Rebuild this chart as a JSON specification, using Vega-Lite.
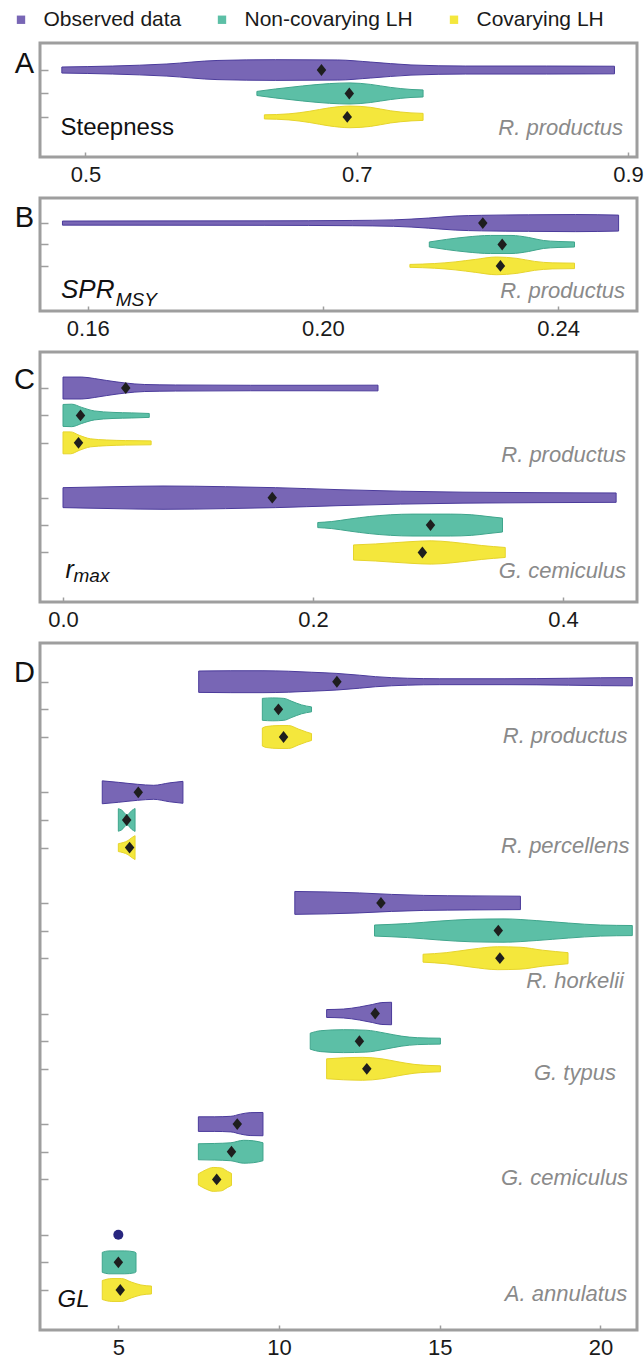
{
"$schema": "https://vega.github.io/schema/vega-lite/v6.json",
"background": "white",
"padding": {"left": 10, "top": 9, "right": 0, "bottom": 0},
"spacing": 41,
"bounds": "flush",
"config": {
  "view": {"stroke": "#9e9e9e", "strokeWidth": 3},
  "axis": {"domain": false, "grid": false, "tickColor": "#9e9e9e", "tickWidth": 1.5, "labelFont": "Liberation Sans", "labelFontSize": 22, "labelColor": "#1a1a1a"},
  "axisX": {"tickSize": -5, "labelPadding": 12, "labelFlush": false, "title": null},
  "axisY": {"tickSize": -8, "labels": false, "titleAngle": 0, "titleX": -16, "titleAlign": "center", "titleBaseline": "alphabetic", "titleFontSize": 29, "titleFontWeight": "normal", "titleFont": "Liberation Sans", "titleColor": "#111111"},
  "legend": {"orient": "none", "legendX": -29.5, "legendY": -34, "direction": "horizontal", "columns": 3, "symbolType": "square", "symbolSize": 70, "labelFontSize": 21, "labelFont": "Liberation Sans", "labelColor": "#1a1a1a", "labelOffset": 12, "columnPadding": 30, "gridAlign": "each", "labelLimit": 300, "padding": 0, "symbolStrokeWidth": 0, "symbolOpacity": 1},
  "text": {"font": "Liberation Sans"}
},
"datasets": {
"vio": [
{"p":"A","v":"A1","s":"Observed data","x":0.4826,"lo":-3.1,"hi":3.1},
{"p":"A","v":"A1","s":"Observed data","x":0.52,"lo":-4.1,"hi":4.1},
{"p":"A","v":"A1","s":"Observed data","x":0.56,"lo":-6.2,"hi":6.2},
{"p":"A","v":"A1","s":"Observed data","x":0.597,"lo":-9.8,"hi":9.8},
{"p":"A","v":"A1","s":"Observed data","x":0.64,"lo":-10.6,"hi":10.6},
{"p":"A","v":"A1","s":"Observed data","x":0.686,"lo":-10.3,"hi":10.3},
{"p":"A","v":"A1","s":"Observed data","x":0.71,"lo":-8.2,"hi":8.2},
{"p":"A","v":"A1","s":"Observed data","x":0.74,"lo":-5.2,"hi":5.2},
{"p":"A","v":"A1","s":"Observed data","x":0.78,"lo":-4.1,"hi":4.1},
{"p":"A","v":"A1","s":"Observed data","x":0.84,"lo":-4.1,"hi":4.1},
{"p":"A","v":"A1","s":"Observed data","x":0.89,"lo":-3.9,"hi":3.9},
{"p":"A","v":"A2","s":"Non-covarying LH","x":0.6264,"lo":21.9,"hi":26.1},
{"p":"A","v":"A2","s":"Non-covarying LH","x":0.64,"lo":19.4,"hi":28.6},
{"p":"A","v":"A2","s":"Non-covarying LH","x":0.66,"lo":16.3,"hi":31.7},
{"p":"A","v":"A2","s":"Non-covarying LH","x":0.68,"lo":13.9,"hi":34.1},
{"p":"A","v":"A2","s":"Non-covarying LH","x":0.695,"lo":13.2,"hi":34.8},
{"p":"A","v":"A2","s":"Non-covarying LH","x":0.71,"lo":14.7,"hi":33.3},
{"p":"A","v":"A2","s":"Non-covarying LH","x":0.725,"lo":17.8,"hi":30.2},
{"p":"A","v":"A2","s":"Non-covarying LH","x":0.74,"lo":19.9,"hi":28.1},
{"p":"A","v":"A2","s":"Non-covarying LH","x":0.7489,"lo":20.4,"hi":27.6},
{"p":"A","v":"A3","s":"Covarying LH","x":0.6319,"lo":45.9,"hi":50.1},
{"p":"A","v":"A3","s":"Covarying LH","x":0.65,"lo":44.9,"hi":51.1},
{"p":"A","v":"A3","s":"Covarying LH","x":0.665,"lo":42.3,"hi":53.7},
{"p":"A","v":"A3","s":"Covarying LH","x":0.68,"lo":38.7,"hi":57.3},
{"p":"A","v":"A3","s":"Covarying LH","x":0.695,"lo":36.9,"hi":59.1},
{"p":"A","v":"A3","s":"Covarying LH","x":0.71,"lo":38.2,"hi":57.8},
{"p":"A","v":"A3","s":"Covarying LH","x":0.725,"lo":41.8,"hi":54.2},
{"p":"A","v":"A3","s":"Covarying LH","x":0.74,"lo":43.9,"hi":52.1},
{"p":"A","v":"A3","s":"Covarying LH","x":0.7489,"lo":44.4,"hi":51.6},
{"p":"B","v":"B1","s":"Observed data","x":0.1557,"lo":-2.1,"hi":2.1},
{"p":"B","v":"B1","s":"Observed data","x":0.19,"lo":-2.3,"hi":2.3},
{"p":"B","v":"B1","s":"Observed data","x":0.205,"lo":-2.7,"hi":2.7},
{"p":"B","v":"B1","s":"Observed data","x":0.212,"lo":-3.3,"hi":3.3},
{"p":"B","v":"B1","s":"Observed data","x":0.218,"lo":-5.2,"hi":5.2},
{"p":"B","v":"B1","s":"Observed data","x":0.2225,"lo":-7.2,"hi":7.2},
{"p":"B","v":"B1","s":"Observed data","x":0.227,"lo":-8,"hi":8},
{"p":"B","v":"B1","s":"Observed data","x":0.235,"lo":-8.5,"hi":8.5},
{"p":"B","v":"B1","s":"Observed data","x":0.243,"lo":-8.8,"hi":8.8},
{"p":"B","v":"B1","s":"Observed data","x":0.2503,"lo":-8.2,"hi":8.2},
{"p":"B","v":"B2","s":"Non-covarying LH","x":0.2181,"lo":19.4,"hi":24.6},
{"p":"B","v":"B2","s":"Non-covarying LH","x":0.221,"lo":16.8,"hi":27.2},
{"p":"B","v":"B2","s":"Non-covarying LH","x":0.2245,"lo":14.3,"hi":29.7},
{"p":"B","v":"B2","s":"Non-covarying LH","x":0.2285,"lo":12.7,"hi":31.3},
{"p":"B","v":"B2","s":"Non-covarying LH","x":0.232,"lo":12.7,"hi":31.3},
{"p":"B","v":"B2","s":"Non-covarying LH","x":0.235,"lo":14.8,"hi":29.2},
{"p":"B","v":"B2","s":"Non-covarying LH","x":0.2375,"lo":17.9,"hi":26.1},
{"p":"B","v":"B2","s":"Non-covarying LH","x":0.24,"lo":18.9,"hi":25.1},
{"p":"B","v":"B2","s":"Non-covarying LH","x":0.2428,"lo":19.4,"hi":24.6},
{"p":"B","v":"B3","s":"Covarying LH","x":0.2148,"lo":42.5,"hi":45.5},
{"p":"B","v":"B3","s":"Covarying LH","x":0.219,"lo":41.6,"hi":46.4},
{"p":"B","v":"B3","s":"Covarying LH","x":0.2225,"lo":39.9,"hi":48.1},
{"p":"B","v":"B3","s":"Covarying LH","x":0.226,"lo":37.3,"hi":50.7},
{"p":"B","v":"B3","s":"Covarying LH","x":0.2295,"lo":34.9,"hi":53.1},
{"p":"B","v":"B3","s":"Covarying LH","x":0.233,"lo":36.3,"hi":51.7},
{"p":"B","v":"B3","s":"Covarying LH","x":0.236,"lo":39.4,"hi":48.6},
{"p":"B","v":"B3","s":"Covarying LH","x":0.239,"lo":40.9,"hi":47.1},
{"p":"B","v":"B3","s":"Covarying LH","x":0.2428,"lo":41.2,"hi":46.8},
{"p":"C","v":"C1","s":"Observed data","x":0,"lo":-11.2,"hi":11.2},
{"p":"C","v":"C1","s":"Observed data","x":0.015,"lo":-11.2,"hi":11.2},
{"p":"C","v":"C1","s":"Observed data","x":0.025,"lo":-9.7,"hi":9.7},
{"p":"C","v":"C1","s":"Observed data","x":0.035,"lo":-7.7,"hi":7.7},
{"p":"C","v":"C1","s":"Observed data","x":0.05,"lo":-5.1,"hi":5.1},
{"p":"C","v":"C1","s":"Observed data","x":0.065,"lo":-3.6,"hi":3.6},
{"p":"C","v":"C1","s":"Observed data","x":0.09,"lo":-3.1,"hi":3.1},
{"p":"C","v":"C1","s":"Observed data","x":0.15,"lo":-2.8,"hi":2.8},
{"p":"C","v":"C1","s":"Observed data","x":0.2,"lo":-2.8,"hi":2.8},
{"p":"C","v":"C1","s":"Observed data","x":0.252,"lo":-2.9,"hi":2.9},
{"p":"C","v":"C2","s":"Non-covarying LH","x":0,"lo":16.8,"hi":39.2},
{"p":"C","v":"C2","s":"Non-covarying LH","x":0.007,"lo":16.5,"hi":39.5},
{"p":"C","v":"C2","s":"Non-covarying LH","x":0.015,"lo":19.8,"hi":36.2},
{"p":"C","v":"C2","s":"Non-covarying LH","x":0.025,"lo":23.4,"hi":32.6},
{"p":"C","v":"C2","s":"Non-covarying LH","x":0.04,"lo":24.9,"hi":31.1},
{"p":"C","v":"C2","s":"Non-covarying LH","x":0.055,"lo":25.4,"hi":30.6},
{"p":"C","v":"C2","s":"Non-covarying LH","x":0.069,"lo":26,"hi":30},
{"p":"C","v":"C3","s":"Covarying LH","x":0,"lo":44.8,"hi":67.2},
{"p":"C","v":"C3","s":"Covarying LH","x":0.006,"lo":44.8,"hi":67.2},
{"p":"C","v":"C3","s":"Covarying LH","x":0.013,"lo":48.3,"hi":63.7},
{"p":"C","v":"C3","s":"Covarying LH","x":0.022,"lo":51.9,"hi":60.1},
{"p":"C","v":"C3","s":"Covarying LH","x":0.035,"lo":53.1,"hi":58.9},
{"p":"C","v":"C3","s":"Covarying LH","x":0.05,"lo":53.7,"hi":58.3},
{"p":"C","v":"C3","s":"Covarying LH","x":0.0705,"lo":54,"hi":58},
{"p":"C","v":"C4","s":"Observed data","x":0,"lo":101.8,"hi":122.2},
{"p":"C","v":"C4","s":"Observed data","x":0.04,"lo":100.8,"hi":123.2},
{"p":"C","v":"C4","s":"Observed data","x":0.08,"lo":100.1,"hi":123.9},
{"p":"C","v":"C4","s":"Observed data","x":0.13,"lo":100.8,"hi":123.2},
{"p":"C","v":"C4","s":"Observed data","x":0.17,"lo":101.8,"hi":122.2},
{"p":"C","v":"C4","s":"Observed data","x":0.22,"lo":103.8,"hi":120.2},
{"p":"C","v":"C4","s":"Observed data","x":0.27,"lo":105.4,"hi":118.6},
{"p":"C","v":"C4","s":"Observed data","x":0.32,"lo":106.4,"hi":117.6},
{"p":"C","v":"C4","s":"Observed data","x":0.38,"lo":106.9,"hi":117.1},
{"p":"C","v":"C4","s":"Observed data","x":0.4425,"lo":107.2,"hi":116.8},
{"p":"C","v":"C5","s":"Non-covarying LH","x":0.2038,"lo":137.4,"hi":142.6},
{"p":"C","v":"C5","s":"Non-covarying LH","x":0.215,"lo":136.4,"hi":143.6},
{"p":"C","v":"C5","s":"Non-covarying LH","x":0.229,"lo":133.9,"hi":146.1},
{"p":"C","v":"C5","s":"Non-covarying LH","x":0.245,"lo":131.3,"hi":148.7},
{"p":"C","v":"C5","s":"Non-covarying LH","x":0.262,"lo":129.5,"hi":150.5},
{"p":"C","v":"C5","s":"Non-covarying LH","x":0.28,"lo":128.8,"hi":151.2},
{"p":"C","v":"C5","s":"Non-covarying LH","x":0.2946,"lo":128.8,"hi":151.2},
{"p":"C","v":"C5","s":"Non-covarying LH","x":0.31,"lo":128.8,"hi":151.2},
{"p":"C","v":"C5","s":"Non-covarying LH","x":0.327,"lo":129.5,"hi":150.5},
{"p":"C","v":"C5","s":"Non-covarying LH","x":0.34,"lo":131.3,"hi":148.7},
{"p":"C","v":"C5","s":"Non-covarying LH","x":0.3516,"lo":132.9,"hi":147.1},
{"p":"C","v":"C6","s":"Covarying LH","x":0.2324,"lo":160.3,"hi":175.7},
{"p":"C","v":"C6","s":"Covarying LH","x":0.25,"lo":159.3,"hi":176.7},
{"p":"C","v":"C6","s":"Covarying LH","x":0.265,"lo":158,"hi":178},
{"p":"C","v":"C6","s":"Covarying LH","x":0.28,"lo":156.8,"hi":179.2},
{"p":"C","v":"C6","s":"Covarying LH","x":0.2946,"lo":156.1,"hi":179.9},
{"p":"C","v":"C6","s":"Covarying LH","x":0.31,"lo":157.3,"hi":178.7},
{"p":"C","v":"C6","s":"Covarying LH","x":0.321,"lo":158.8,"hi":177.2},
{"p":"C","v":"C6","s":"Covarying LH","x":0.335,"lo":160.9,"hi":175.1},
{"p":"C","v":"C6","s":"Covarying LH","x":0.3538,"lo":162.9,"hi":173.1},
{"p":"D","v":"D1","s":"Observed data","x":7.5,"lo":-10.8,"hi":10.8},
{"p":"D","v":"D1","s":"Observed data","x":8.5,"lo":-11.1,"hi":11.1},
{"p":"D","v":"D1","s":"Observed data","x":9.5,"lo":-11.1,"hi":11.1},
{"p":"D","v":"D1","s":"Observed data","x":10.3,"lo":-10.6,"hi":10.6},
{"p":"D","v":"D1","s":"Observed data","x":11,"lo":-9.6,"hi":9.6},
{"p":"D","v":"D1","s":"Observed data","x":11.8,"lo":-8.4,"hi":8.4},
{"p":"D","v":"D1","s":"Observed data","x":12.5,"lo":-6.6,"hi":6.6},
{"p":"D","v":"D1","s":"Observed data","x":13,"lo":-5.1,"hi":5.1},
{"p":"D","v":"D1","s":"Observed data","x":14,"lo":-3.5,"hi":3.5},
{"p":"D","v":"D1","s":"Observed data","x":15,"lo":-3,"hi":3},
{"p":"D","v":"D1","s":"Observed data","x":17,"lo":-3,"hi":3},
{"p":"D","v":"D1","s":"Observed data","x":19,"lo":-3.5,"hi":3.5},
{"p":"D","v":"D1","s":"Observed data","x":20,"lo":-4,"hi":4},
{"p":"D","v":"D1","s":"Observed data","x":20.99,"lo":-4.2,"hi":4.2},
{"p":"D","v":"D2","s":"Non-covarying LH","x":9.48,"lo":16.9,"hi":39.1},
{"p":"D","v":"D2","s":"Non-covarying LH","x":9.8,"lo":16.4,"hi":39.6},
{"p":"D","v":"D2","s":"Non-covarying LH","x":10.15,"lo":16.9,"hi":39.1},
{"p":"D","v":"D2","s":"Non-covarying LH","x":10.4,"lo":19.9,"hi":36.1},
{"p":"D","v":"D2","s":"Non-covarying LH","x":10.7,"lo":23.5,"hi":32.5},
{"p":"D","v":"D2","s":"Non-covarying LH","x":11.01,"lo":25.5,"hi":30.5},
{"p":"D","v":"D3","s":"Covarying LH","x":9.48,"lo":46.9,"hi":65.1},
{"p":"D","v":"D3","s":"Covarying LH","x":9.6,"lo":45.4,"hi":66.6},
{"p":"D","v":"D3","s":"Covarying LH","x":10,"lo":44.4,"hi":67.6},
{"p":"D","v":"D3","s":"Covarying LH","x":10.3,"lo":44.4,"hi":67.6},
{"p":"D","v":"D3","s":"Covarying LH","x":10.6,"lo":47.9,"hi":64.1},
{"p":"D","v":"D3","s":"Covarying LH","x":10.85,"lo":50.9,"hi":61.1},
{"p":"D","v":"D3","s":"Covarying LH","x":11.01,"lo":52.5,"hi":59.5},
{"p":"D","v":"D4","s":"Observed data","x":4.5,"lo":100.4,"hi":123.6},
{"p":"D","v":"D4","s":"Observed data","x":5,"lo":101.9,"hi":122.1},
{"p":"D","v":"D4","s":"Observed data","x":5.6,"lo":103.9,"hi":120.1},
{"p":"D","v":"D4","s":"Observed data","x":6.1,"lo":104.9,"hi":119.1},
{"p":"D","v":"D4","s":"Observed data","x":6.6,"lo":102.4,"hi":121.6},
{"p":"D","v":"D4","s":"Observed data","x":7.01,"lo":100.9,"hi":123.1},
{"p":"D","v":"D5","s":"Non-covarying LH","x":5,"lo":128.6,"hi":151.4},
{"p":"D","v":"D5","s":"Non-covarying LH","x":5.1,"lo":129.9,"hi":150.1},
{"p":"D","v":"D5","s":"Non-covarying LH","x":5.27,"lo":134.9,"hi":145.1},
{"p":"D","v":"D5","s":"Non-covarying LH","x":5.42,"lo":130.4,"hi":149.6},
{"p":"D","v":"D5","s":"Non-covarying LH","x":5.52,"lo":128.4,"hi":151.6},
{"p":"D","v":"D6","s":"Covarying LH","x":5,"lo":164,"hi":172},
{"p":"D","v":"D6","s":"Covarying LH","x":5.15,"lo":162.9,"hi":173.1},
{"p":"D","v":"D6","s":"Covarying LH","x":5.3,"lo":160.9,"hi":175.1},
{"p":"D","v":"D6","s":"Covarying LH","x":5.42,"lo":157.9,"hi":178.1},
{"p":"D","v":"D6","s":"Covarying LH","x":5.52,"lo":155.9,"hi":180.1},
{"p":"D","v":"D7","s":"Observed data","x":10.49,"lo":212.4,"hi":235.6},
{"p":"D","v":"D7","s":"Observed data","x":11.5,"lo":212.9,"hi":235.1},
{"p":"D","v":"D7","s":"Observed data","x":12.5,"lo":213.9,"hi":234.1},
{"p":"D","v":"D7","s":"Observed data","x":13.5,"lo":215.4,"hi":232.6},
{"p":"D","v":"D7","s":"Observed data","x":14.5,"lo":216.4,"hi":231.6},
{"p":"D","v":"D7","s":"Observed data","x":16,"lo":216.9,"hi":231.1},
{"p":"D","v":"D7","s":"Observed data","x":17.51,"lo":217.2,"hi":230.8},
{"p":"D","v":"D8","s":"Non-covarying LH","x":12.97,"lo":246.4,"hi":257.6},
{"p":"D","v":"D8","s":"Non-covarying LH","x":14,"lo":244.9,"hi":259.1},
{"p":"D","v":"D8","s":"Non-covarying LH","x":15,"lo":242.4,"hi":261.6},
{"p":"D","v":"D8","s":"Non-covarying LH","x":16,"lo":240.6,"hi":263.4},
{"p":"D","v":"D8","s":"Non-covarying LH","x":17,"lo":240.2,"hi":263.8},
{"p":"D","v":"D8","s":"Non-covarying LH","x":18,"lo":241.9,"hi":262.1},
{"p":"D","v":"D8","s":"Non-covarying LH","x":19,"lo":244.4,"hi":259.6},
{"p":"D","v":"D8","s":"Non-covarying LH","x":20,"lo":246.4,"hi":257.6},
{"p":"D","v":"D8","s":"Non-covarying LH","x":20.99,"lo":246.9,"hi":257.1},
{"p":"D","v":"D9","s":"Covarying LH","x":14.48,"lo":276,"hi":284},
{"p":"D","v":"D9","s":"Covarying LH","x":15.2,"lo":274.4,"hi":285.6},
{"p":"D","v":"D9","s":"Covarying LH","x":16,"lo":270.9,"hi":289.1},
{"p":"D","v":"D9","s":"Covarying LH","x":16.8,"lo":268.4,"hi":291.6},
{"p":"D","v":"D9","s":"Covarying LH","x":17.5,"lo":268.9,"hi":291.1},
{"p":"D","v":"D9","s":"Covarying LH","x":18.2,"lo":271.9,"hi":288.1},
{"p":"D","v":"D9","s":"Covarying LH","x":18.99,"lo":274.4,"hi":285.6},
{"p":"D","v":"D10","s":"Observed data","x":11.48,"lo":332,"hi":340},
{"p":"D","v":"D10","s":"Observed data","x":12,"lo":331.5,"hi":340.5},
{"p":"D","v":"D10","s":"Observed data","x":12.5,"lo":329.4,"hi":342.6},
{"p":"D","v":"D10","s":"Observed data","x":12.9,"lo":326.9,"hi":345.1},
{"p":"D","v":"D10","s":"Observed data","x":13.2,"lo":324.9,"hi":347.1},
{"p":"D","v":"D10","s":"Observed data","x":13.5,"lo":324.6,"hi":347.4},
{"p":"D","v":"D11","s":"Non-covarying LH","x":10.97,"lo":355.9,"hi":372.1},
{"p":"D","v":"D11","s":"Non-covarying LH","x":11.3,"lo":353.4,"hi":374.6},
{"p":"D","v":"D11","s":"Non-covarying LH","x":12,"lo":352.4,"hi":375.6},
{"p":"D","v":"D11","s":"Non-covarying LH","x":12.7,"lo":352.9,"hi":375.1},
{"p":"D","v":"D11","s":"Non-covarying LH","x":13.3,"lo":355.9,"hi":372.1},
{"p":"D","v":"D11","s":"Non-covarying LH","x":13.8,"lo":358.9,"hi":369.1},
{"p":"D","v":"D11","s":"Non-covarying LH","x":14.3,"lo":360.5,"hi":367.5},
{"p":"D","v":"D11","s":"Non-covarying LH","x":15.02,"lo":361,"hi":367},
{"p":"D","v":"D12","s":"Covarying LH","x":11.48,"lo":381.9,"hi":402.1},
{"p":"D","v":"D12","s":"Covarying LH","x":12,"lo":380.9,"hi":403.1},
{"p":"D","v":"D12","s":"Covarying LH","x":12.6,"lo":380.4,"hi":403.6},
{"p":"D","v":"D12","s":"Covarying LH","x":13.2,"lo":381.9,"hi":402.1},
{"p":"D","v":"D12","s":"Covarying LH","x":13.7,"lo":384.9,"hi":399.1},
{"p":"D","v":"D12","s":"Covarying LH","x":14.2,"lo":387.5,"hi":396.5},
{"p":"D","v":"D12","s":"Covarying LH","x":14.6,"lo":388.5,"hi":395.5},
{"p":"D","v":"D12","s":"Covarying LH","x":15.02,"lo":389,"hi":395},
{"p":"D","v":"D13","s":"Observed data","x":7.49,"lo":440.6,"hi":455.4},
{"p":"D","v":"D13","s":"Observed data","x":8,"lo":440.6,"hi":455.4},
{"p":"D","v":"D13","s":"Observed data","x":8.5,"lo":440.1,"hi":455.9},
{"p":"D","v":"D13","s":"Observed data","x":8.8,"lo":437.9,"hi":458.1},
{"p":"D","v":"D13","s":"Observed data","x":9.1,"lo":436.4,"hi":459.6},
{"p":"D","v":"D13","s":"Observed data","x":9.5,"lo":436.2,"hi":459.8},
{"p":"D","v":"D14","s":"Non-covarying LH","x":7.49,"lo":467.9,"hi":484.1},
{"p":"D","v":"D14","s":"Non-covarying LH","x":8,"lo":467.6,"hi":484.4},
{"p":"D","v":"D14","s":"Non-covarying LH","x":8.5,"lo":466.9,"hi":485.1},
{"p":"D","v":"D14","s":"Non-covarying LH","x":8.9,"lo":464.4,"hi":487.6},
{"p":"D","v":"D14","s":"Non-covarying LH","x":9.2,"lo":464.9,"hi":487.1},
{"p":"D","v":"D14","s":"Non-covarying LH","x":9.5,"lo":466.9,"hi":485.1},
{"p":"D","v":"D15","s":"Covarying LH","x":7.49,"lo":498.4,"hi":509.6},
{"p":"D","v":"D15","s":"Covarying LH","x":7.75,"lo":493.9,"hi":514.1},
{"p":"D","v":"D15","s":"Covarying LH","x":7.95,"lo":491.9,"hi":516.1},
{"p":"D","v":"D15","s":"Covarying LH","x":8.2,"lo":492.4,"hi":515.6},
{"p":"D","v":"D15","s":"Covarying LH","x":8.4,"lo":495.9,"hi":512.1},
{"p":"D","v":"D15","s":"Covarying LH","x":8.52,"lo":497.9,"hi":510.1},
{"p":"D","v":"D16","s":"Non-covarying LH","x":4.5,"lo":577.9,"hi":598.1},
{"p":"D","v":"D16","s":"Non-covarying LH","x":4.7,"lo":576.4,"hi":599.6},
{"p":"D","v":"D16","s":"Non-covarying LH","x":5.2,"lo":576.4,"hi":599.6},
{"p":"D","v":"D16","s":"Non-covarying LH","x":5.5,"lo":577.4,"hi":598.6},
{"p":"D","v":"D16","s":"Non-covarying LH","x":5.55,"lo":578.4,"hi":597.6},
{"p":"D","v":"D17","s":"Covarying LH","x":4.5,"lo":606.4,"hi":625.6},
{"p":"D","v":"D17","s":"Covarying LH","x":4.8,"lo":604.4,"hi":627.6},
{"p":"D","v":"D17","s":"Covarying LH","x":5.1,"lo":604.4,"hi":627.6},
{"p":"D","v":"D17","s":"Covarying LH","x":5.4,"lo":607.9,"hi":624.1},
{"p":"D","v":"D17","s":"Covarying LH","x":5.7,"lo":610.9,"hi":621.1},
{"p":"D","v":"D17","s":"Covarying LH","x":6.03,"lo":612,"hi":620}
],
"med": [
{"p":"A","x":0.674,"y":0},{"p":"A","x":0.6945,"y":24},{"p":"A","x":0.693,"y":48},
{"p":"B","x":0.2272,"y":0},{"p":"B","x":0.2305,"y":22},{"p":"B","x":0.2302,"y":44},
{"p":"C","x":0.0502,"y":0},{"p":"C","x":0.014,"y":28},{"p":"C","x":0.0124,"y":56},
{"p":"C","x":0.1674,"y":112},{"p":"C","x":0.294,"y":140},{"p":"C","x":0.2875,"y":168},
{"p":"D","x":11.8,"y":0},{"p":"D","x":9.98,"y":28},{"p":"D","x":10.14,"y":56},
{"p":"D","x":5.62,"y":112},{"p":"D","x":5.26,"y":140},{"p":"D","x":5.35,"y":168},
{"p":"D","x":13.17,"y":224},{"p":"D","x":16.82,"y":252},{"p":"D","x":16.87,"y":280},
{"p":"D","x":12.99,"y":336},{"p":"D","x":12.5,"y":364},{"p":"D","x":12.73,"y":392},
{"p":"D","x":8.7,"y":448},{"p":"D","x":8.52,"y":476},{"p":"D","x":8.06,"y":504},
{"p":"D","x":5.0,"y":588},{"p":"D","x":5.06,"y":616}
],
"dot": [{"p":"D","x":5.0,"y":560}]
},
"vconcat": [
{
 "width": 597, "height": 114,
 "layer": [
  {"data": {"name": "vio"}, "transform": [{"filter": "datum.p == 'A'"}],
   "mark": {"type": "area", "orient": "vertical", "interpolate": "monotone", "strokeWidth": 1, "opacity": 1},
   "encoding": {
    "x": {"field": "x", "type": "quantitative", "scale": {"domain": [0.4665, 0.9066], "nice": false, "zero": false}, "axis": {"values": [0.5, 0.7, 0.9], "format": ".1f"}},
    "y": {"field": "lo", "type": "quantitative", "scale": {"domain": [-27.7, 89.1], "nice": false, "zero": false, "reverse": true}, "axis": {"values": [0, 24, 48], "title": "A", "titleY": 29}},
    "y2": {"field": "hi"},
    "fill": {"field": "s", "type": "nominal", "scale": {"domain": ["Observed data", "Non-covarying LH", "Covarying LH"], "range": ["#7866b5", "#5cbfa6", "#f4e73c"]}, "legend": {"title": null}},
    "stroke": {"field": "s", "type": "nominal", "scale": {"domain": ["Observed data", "Non-covarying LH", "Covarying LH"], "range": ["#4b3b9b", "#3fa58c", "#e6d42c"]}, "legend": null},
    "detail": {"field": "v"}
   }},
  {"data": {"name": "med"}, "transform": [{"filter": "datum.p == 'A'"}],
   "mark": {"type": "point", "shape": "M0,-1L0.8,0L0,1L-0.8,0Z", "filled": true, "color": "#1e1e1e", "size": 140, "opacity": 1},
   "encoding": {"x": {"field": "x", "type": "quantitative"}, "y": {"field": "y", "type": "quantitative"}}},
  {"data": {"values": [{}]}, "mark": {"type": "text", "text": "Steepness", "fontSize": 24, "color": "#111111", "align": "left", "baseline": "alphabetic"},
   "encoding": {"x": {"datum": 0.4816}, "y": {"datum": 66.8}}},
  {"data": {"values": [{}]}, "mark": {"type": "text", "text": "R. productus", "fontSize": 22, "fontStyle": "italic", "color": "#8a8a8a", "align": "right", "baseline": "alphabetic"},
   "encoding": {"x": {"datum": 0.8963}, "y": {"datum": 66.8}}}
 ]
},
{
 "width": 597, "height": 113,
 "layer": [
  {"data": {"name": "vio"}, "transform": [{"filter": "datum.p == 'B'"}],
   "mark": {"type": "area", "orient": "vertical", "interpolate": "monotone", "strokeWidth": 1, "opacity": 1},
   "encoding": {
    "x": {"field": "x", "type": "quantitative", "scale": {"domain": [0.15188, 0.25343], "nice": false, "zero": false}, "axis": {"values": [0.16, 0.2, 0.24], "format": ".2f"}},
    "y": {"field": "lo", "type": "quantitative", "scale": {"domain": [-25.8, 90.4], "nice": false, "zero": false, "reverse": true}, "axis": {"values": [0, 22, 44], "title": "B", "titleY": 28}},
    "y2": {"field": "hi"},
    "fill": {"field": "s", "type": "nominal", "scale": {"domain": ["Observed data", "Non-covarying LH", "Covarying LH"], "range": ["#7866b5", "#5cbfa6", "#f4e73c"]}, "legend": {"title": null}},
    "stroke": {"field": "s", "type": "nominal", "scale": {"domain": ["Observed data", "Non-covarying LH", "Covarying LH"], "range": ["#4b3b9b", "#3fa58c", "#e6d42c"]}, "legend": null},
    "detail": {"field": "v"}
   }},
  {"data": {"name": "med"}, "transform": [{"filter": "datum.p == 'B'"}],
   "mark": {"type": "point", "shape": "M0,-1L0.8,0L0,1L-0.8,0Z", "filled": true, "color": "#1e1e1e", "size": 140, "opacity": 1},
   "encoding": {"x": {"field": "x", "type": "quantitative"}, "y": {"field": "y", "type": "quantitative"}}},
  {"data": {"values": [{}]}, "mark": {"type": "text", "text": "SPR", "fontSize": 26, "fontStyle": "italic", "color": "#111111", "align": "left", "baseline": "alphabetic"},
   "encoding": {"x": {"datum": 0.15545}, "y": {"datum": 76.7}}},
  {"data": {"values": [{}]}, "mark": {"type": "text", "text": "MSY", "fontSize": 19, "fontStyle": "italic", "color": "#111111", "align": "left", "baseline": "alphabetic"},
   "encoding": {"x": {"datum": 0.16475}, "y": {"datum": 85.2}}},
  {"data": {"values": [{}]}, "mark": {"type": "text", "text": "R. productus", "fontSize": 22, "fontStyle": "italic", "color": "#8a8a8a", "align": "right", "baseline": "alphabetic"},
   "encoding": {"x": {"datum": 0.2514}, "y": {"datum": 76.7}}}
 ]
},
{
 "width": 597, "height": 250,
 "layer": [
  {"data": {"name": "vio"}, "transform": [{"filter": "datum.p == 'C'"}],
   "mark": {"type": "area", "orient": "vertical", "interpolate": "monotone", "strokeWidth": 1, "opacity": 1},
   "encoding": {
    "x": {"field": "x", "type": "quantitative", "scale": {"domain": [-0.0184, 0.4592], "nice": false, "zero": false}, "axis": {"values": [0, 0.2, 0.4], "format": ".1f"}},
    "y": {"field": "lo", "type": "quantitative", "scale": {"domain": [-36.8, 218.6], "nice": false, "zero": false, "reverse": true}, "axis": {"values": [0, 28, 56, 112, 140, 168], "title": "C", "titleY": 36}},
    "y2": {"field": "hi"},
    "fill": {"field": "s", "type": "nominal", "scale": {"domain": ["Observed data", "Non-covarying LH", "Covarying LH"], "range": ["#7866b5", "#5cbfa6", "#f4e73c"]}, "legend": {"title": null}},
    "stroke": {"field": "s", "type": "nominal", "scale": {"domain": ["Observed data", "Non-covarying LH", "Covarying LH"], "range": ["#4b3b9b", "#3fa58c", "#e6d42c"]}, "legend": null},
    "detail": {"field": "v"}
   }},
  {"data": {"name": "med"}, "transform": [{"filter": "datum.p == 'C'"}],
   "mark": {"type": "point", "shape": "M0,-1L0.8,0L0,1L-0.8,0Z", "filled": true, "color": "#1e1e1e", "size": 140, "opacity": 1},
   "encoding": {"x": {"field": "x", "type": "quantitative"}, "y": {"field": "y", "type": "quantitative"}}},
  {"data": {"values": [{}]}, "mark": {"type": "text", "text": "R. productus", "fontSize": 22, "fontStyle": "italic", "color": "#8a8a8a", "align": "right", "baseline": "alphabetic"},
   "encoding": {"x": {"datum": 0.4504}, "y": {"datum": 75.3}}},
  {"data": {"values": [{}]}, "mark": {"type": "text", "text": "G. cemiculus", "fontSize": 22, "fontStyle": "italic", "color": "#8a8a8a", "align": "right", "baseline": "alphabetic"},
   "encoding": {"x": {"datum": 0.4504}, "y": {"datum": 194}}},
  {"data": {"values": [{}]}, "mark": {"type": "text", "text": "r", "fontSize": 25, "fontStyle": "italic", "color": "#111111", "align": "left", "baseline": "alphabetic"},
   "encoding": {"x": {"datum": 0.002}, "y": {"datum": 194}}},
  {"data": {"values": [{}]}, "mark": {"type": "text", "text": "max", "fontSize": 19, "fontStyle": "italic", "color": "#111111", "align": "left", "baseline": "alphabetic"},
   "encoding": {"x": {"datum": 0.0084}, "y": {"datum": 198.2}}}
 ]
},
{
 "width": 597, "height": 687,
 "layer": [
  {"data": {"name": "vio"}, "transform": [{"filter": "datum.p == 'D'"}],
   "mark": {"type": "area", "orient": "vertical", "interpolate": "monotone", "strokeWidth": 1, "opacity": 1},
   "encoding": {
    "x": {"field": "x", "type": "quantitative", "scale": {"domain": [2.563, 21.136], "nice": false, "zero": false}, "axis": {"values": [5, 10, 15, 20], "format": "d"}},
    "y": {"field": "lo", "type": "quantitative", "scale": {"domain": [-39.2, 656.5], "nice": false, "zero": false, "reverse": true}, "axis": {"values": [0, 28, 56, 112, 140, 168, 224, 252, 280, 336, 364, 392, 448, 476, 504, 560, 588, 616], "title": "D", "titleY": 38.5}},
    "y2": {"field": "hi"},
    "fill": {"field": "s", "type": "nominal", "scale": {"domain": ["Observed data", "Non-covarying LH", "Covarying LH"], "range": ["#7866b5", "#5cbfa6", "#f4e73c"]}, "legend": {"title": null}},
    "stroke": {"field": "s", "type": "nominal", "scale": {"domain": ["Observed data", "Non-covarying LH", "Covarying LH"], "range": ["#4b3b9b", "#3fa58c", "#e6d42c"]}, "legend": null},
    "detail": {"field": "v"}
   }},
  {"data": {"name": "dot"},
   "mark": {"type": "point", "shape": "circle", "filled": true, "color": "#28267f", "size": 100, "opacity": 1},
   "encoding": {"x": {"field": "x", "type": "quantitative"}, "y": {"field": "y", "type": "quantitative"}}},
  {"data": {"name": "med"}, "transform": [{"filter": "datum.p == 'D'"}],
   "mark": {"type": "point", "shape": "M0,-1L0.8,0L0,1L-0.8,0Z", "filled": true, "color": "#1e1e1e", "size": 140, "opacity": 1},
   "encoding": {"x": {"field": "x", "type": "quantitative"}, "y": {"field": "y", "type": "quantitative"}}},
  {"data": {"values": [{}]}, "mark": {"type": "text", "text": "R. productus", "fontSize": 22, "fontStyle": "italic", "color": "#8a8a8a", "align": "right", "baseline": "alphabetic"},
   "encoding": {"x": {"datum": 20.84}, "y": {"datum": 62.4}}},
  {"data": {"values": [{}]}, "mark": {"type": "text", "text": "R. percellens", "fontSize": 22, "fontStyle": "italic", "color": "#8a8a8a", "align": "right", "baseline": "alphabetic"},
   "encoding": {"x": {"datum": 20.9}, "y": {"datum": 173.8}}},
  {"data": {"values": [{}]}, "mark": {"type": "text", "text": "R. horkelii", "fontSize": 22, "fontStyle": "italic", "color": "#8a8a8a", "align": "right", "baseline": "alphabetic"},
   "encoding": {"x": {"datum": 20.73}, "y": {"datum": 310.4}}},
  {"data": {"values": [{}]}, "mark": {"type": "text", "text": "G. typus", "fontSize": 22, "fontStyle": "italic", "color": "#8a8a8a", "align": "right", "baseline": "alphabetic"},
   "encoding": {"x": {"datum": 20.48}, "y": {"datum": 403.3}}},
  {"data": {"values": [{}]}, "mark": {"type": "text", "text": "G. cemiculus", "fontSize": 22, "fontStyle": "italic", "color": "#8a8a8a", "align": "right", "baseline": "alphabetic"},
   "encoding": {"x": {"datum": 20.86}, "y": {"datum": 509.7}}},
  {"data": {"values": [{}]}, "mark": {"type": "text", "text": "A. annulatus", "fontSize": 22, "fontStyle": "italic", "color": "#8a8a8a", "align": "right", "baseline": "alphabetic"},
   "encoding": {"x": {"datum": 20.83}, "y": {"datum": 627.6}}},
  {"data": {"values": [{}]}, "mark": {"type": "text", "text": "GL", "fontSize": 24, "fontStyle": "italic", "color": "#111111", "align": "left", "baseline": "alphabetic"},
   "encoding": {"x": {"datum": 3.107}, "y": {"datum": 632.9}}}
 ]
}
]
}
